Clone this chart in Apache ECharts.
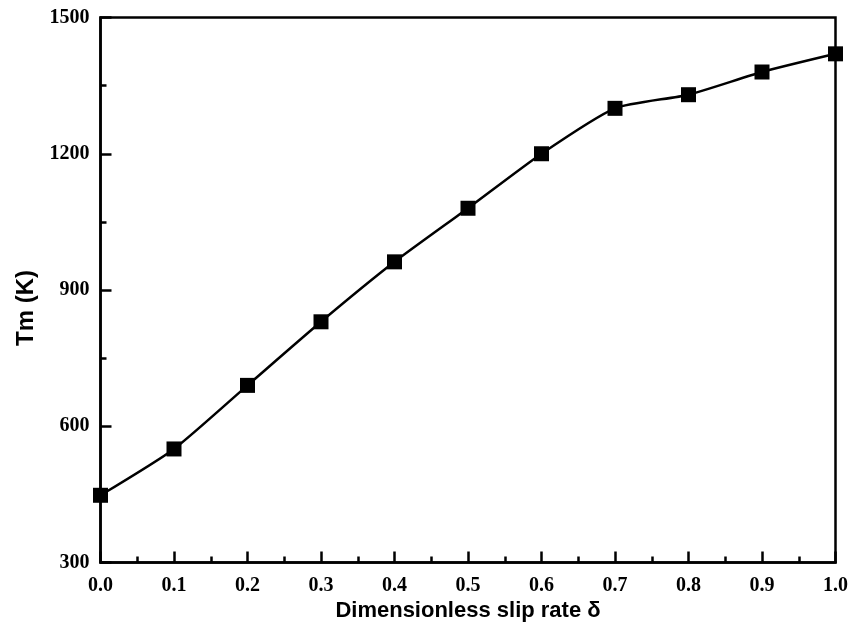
<!DOCTYPE html>
<html>
<head>
<meta charset="utf-8">
<script src="https://cdn.jsdelivr.net/npm/echarts@6/dist/echarts.min.js"></script>
<style>
  html, body { margin: 0; padding: 0; background: #fff; }
  #chart { width: 862px; height: 636px; }
</style>
</head>
<body>
<div id="chart"></div>
<script>
// Melt temperature against dimensionless slip rate
const slipRate = [0.0, 0.1, 0.2, 0.3, 0.4, 0.5, 0.6, 0.7, 0.8, 0.9, 1.0];
const tmValues = [448, 550, 690, 830, 962, 1080, 1200, 1300, 1330, 1380, 1420];
const yTicks = [300, 600, 900, 1200, 1500];

const points = slipRate.map((x, i) => [x, tmValues[i]]);

const chart = echarts.init(document.getElementById('chart'), null, { renderer: 'canvas' });

const tickFont = {
  color: '#000',
  fontFamily: '"Liberation Serif", "Times New Roman", serif',
  fontWeight: 'bold',
  fontSize: 20
};
const nameFont = {
  color: '#000',
  fontFamily: '"Liberation Sans", Arial, sans-serif',
  fontWeight: 'bold',
  fontSize: 22
};

chart.setOption({
  animation: false,
  backgroundColor: '#fff',
  grid: {
    left: 100.5, top: 17.5, right: 26.5, bottom: 73.5,
    show: true, borderColor: '#000', borderWidth: 2.5, backgroundColor: 'transparent'
  },
  xAxis: {
    type: 'value',
    min: 0, max: 1, interval: 0.1,
    name: 'Dimensionless slip rate δ',
    nameLocation: 'middle',
    nameGap: 31,
    nameTextStyle: nameFont,
    axisLine: { show: true, lineStyle: { color: '#000', width: 2.5 } },
    axisTick: { show: true, inside: true, length: 11, lineStyle: { color: '#000', width: 2.5 } },
    minorTick: { show: true, splitNumber: 2, length: 6, lineStyle: { color: '#000', width: 2.5 } },
    splitLine: { show: false },
    axisLabel: Object.assign({ margin: 13, formatter: v => v.toFixed(1) }, tickFont)
  },
  yAxis: {
    type: 'value',
    min: yTicks[0], max: yTicks[yTicks.length - 1], interval: 300,
    name: 'Tm (K)',
    nameLocation: 'middle',
    nameGap: 61,
    nameRotate: 90,
    nameTextStyle: Object.assign({}, nameFont, { fontSize: 24, padding: [0, 36, 0, 0] }),
    axisLine: { show: true, lineStyle: { color: '#000', width: 2.5 } },
    axisTick: { show: true, inside: true, length: 11, lineStyle: { color: '#000', width: 2.5 } },
    minorTick: { show: true, splitNumber: 2, length: 6, lineStyle: { color: '#000', width: 2.5 } },
    splitLine: { show: false },
    axisLabel: Object.assign({ margin: 11, formatter: v => String(v) }, tickFont)
  },
  series: [{
    type: 'line',
    data: points,
    smooth: 0.2,
    symbol: 'rect',
    symbolSize: 15,
    itemStyle: { color: '#000' },
    lineStyle: { color: '#000', width: 2.5 },
    clip: false
  }]
});
</script>
</body>
</html>
